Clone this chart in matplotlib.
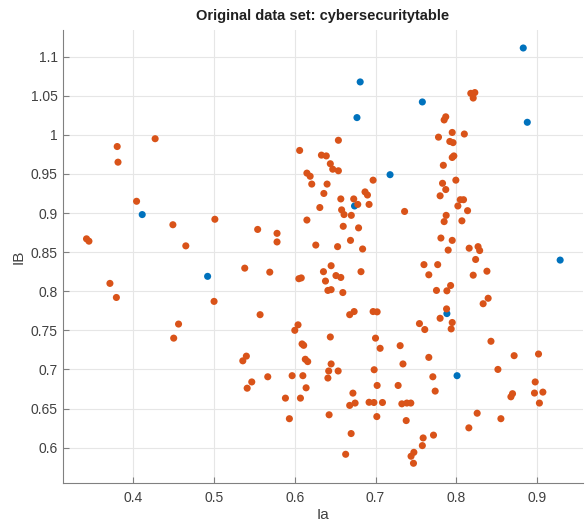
import matplotlib
matplotlib.use("Agg")
import matplotlib.pyplot as plt
from matplotlib.ticker import FuncFormatter

# Class 1 (orange) points
orange_x = [0.427, 0.380, 0.381, 0.404, 0.449, 0.501, 0.342, 0.345, 0.465,
            0.371, 0.379, 0.500, 0.456, 0.450,
            0.654, 0.606, 0.633, 0.639, 0.644, 0.647, 0.654, 0.615, 0.619, 0.697,
            0.621, 0.640, 0.687, 0.690, 0.636, 0.657, 0.673, 0.692, 0.678, 0.631,
            0.658, 0.661, 0.670, 0.736, 0.615, 0.554, 0.660, 0.679, 0.578, 0.578,
            0.669, 0.626, 0.653, 0.684,
            0.818, 0.823, 0.821, 0.787, 0.785, 0.795, 0.810, 0.778, 0.792, 0.796,
            0.797, 0.795, 0.784, 0.7995, 0.783, 0.787, 0.780, 0.805, 0.809, 0.802,
            0.814, 0.7875, 0.785, 0.807, 0.781, 0.795, 0.790, 0.816, 0.827, 0.829,
            0.538, 0.569, 0.605, 0.608, 0.6355, 0.645, 0.638, 0.651, 0.657, 0.682,
            0.641, 0.645, 0.6595, 0.557, 0.668, 0.6735, 0.697, 0.702, 0.604, 0.600,
            0.644, 0.700, 0.7057, 0.7305, 0.609, 0.611, 0.540, 0.5356, 0.613, 0.616,
            0.645, 0.642, 0.641, 0.6537, 0.6983, 0.734, 0.5467, 0.541, 0.5665,
            0.5967, 0.610, 0.614, 0.5884, 0.607, 0.702, 0.728, 0.672, 0.668, 0.6747,
            0.692, 0.698, 0.7086, 0.7326, 0.7388, 0.7437, 0.5933, 0.6425, 0.7016,
            0.738, 0.6698, 0.663,
            0.824, 0.760, 0.777, 0.766, 0.821, 0.838, 0.7755, 0.7884, 0.793, 0.8395,
            0.8333, 0.788, 0.780, 0.7544, 0.761, 0.795, 0.7937, 0.843, 0.8717,
            0.9019, 0.766, 0.8516, 0.771, 0.7739, 0.8978, 0.8697, 0.8677, 0.8969,
            0.9073, 0.903, 0.8259, 0.8553, 0.8156, 0.7718, 0.759, 0.758, 0.7475,
            0.744, 0.747]
orange_y = [0.995, 0.985, 0.965, 0.915, 0.885, 0.892, 0.867, 0.864, 0.858,
            0.810, 0.792, 0.787, 0.758, 0.740,
            0.993, 0.980, 0.974, 0.973, 0.963, 0.956, 0.954, 0.951, 0.947, 0.942,
            0.937, 0.937, 0.927, 0.923, 0.925, 0.918, 0.918, 0.911, 0.911, 0.907,
            0.904, 0.898, 0.897, 0.902, 0.891, 0.879, 0.883, 0.881, 0.874, 0.863,
            0.865, 0.859, 0.857, 0.854,
            1.053, 1.054, 1.047, 1.023, 1.019, 1.003, 1.001, 0.997, 0.9915, 0.990,
            0.973, 0.971, 0.961, 0.942, 0.938, 0.930, 0.922, 0.917, 0.917, 0.909,
            0.903, 0.897, 0.889, 0.890, 0.868, 0.865, 0.8526, 0.855, 0.857, 0.852,
            0.8295, 0.8244, 0.816, 0.817, 0.825, 0.8326, 0.813, 0.820, 0.8176, 0.825,
            0.801, 0.802, 0.7983, 0.770, 0.770, 0.774, 0.774, 0.7736, 0.757, 0.750,
            0.7415, 0.740, 0.727, 0.7304, 0.7326, 0.7308, 0.717, 0.711, 0.713, 0.710,
            0.707, 0.698, 0.689, 0.698, 0.6996, 0.707, 0.684, 0.676, 0.6906,
            0.692, 0.692, 0.6765, 0.6633, 0.6633, 0.6795, 0.6795, 0.6697, 0.654, 0.657,
            0.658, 0.6577, 0.6577, 0.656, 0.657, 0.657, 0.637, 0.642, 0.6397,
            0.6346, 0.618, 0.5915,
            0.8406, 0.834, 0.834, 0.821, 0.8205, 0.8256, 0.801, 0.8005, 0.8073, 0.791,
            0.784, 0.7774, 0.7654, 0.7586, 0.751, 0.760, 0.7518, 0.736, 0.7176,
            0.7197, 0.7154, 0.700, 0.6906, 0.6723, 0.684, 0.669, 0.665, 0.6698,
            0.671, 0.657, 0.644, 0.637, 0.6253, 0.616, 0.6124, 0.6026, 0.594,
            0.589, 0.580]

# Class 2 (blue) points
blue_x = [0.411, 0.492, 0.681, 0.677, 0.718, 0.674, 0.883, 0.758, 0.888,
          0.9287, 0.7884, 0.801]
blue_y = [0.898, 0.819, 1.0676, 1.022, 0.949, 0.909, 1.111, 1.042, 1.016,
          0.8398, 0.7714, 0.692]

xticks = [0.4, 0.5, 0.6, 0.7, 0.8, 0.9]
yticks = [0.6, 0.65, 0.7, 0.75, 0.8, 0.85, 0.9, 0.95, 1.0, 1.05, 1.1]

plt.rcParams['font.family'] = ['Liberation Sans', 'DejaVu Sans']

fig = plt.figure(figsize=(5.85, 5.23), dpi=100)
ax = fig.add_axes([62.7 / 585, (523 - 483.3) / 523, (583 - 62.7) / 585, (483.3 - 30) / 523])

ax.scatter(blue_x, blue_y, s=26, color='#0072BD', edgecolors='none', zorder=3)
ax.scatter(orange_x, orange_y, s=26, color='#D95319', edgecolors='none', zorder=3)

ax.set_xlim(0.3125, 0.957)
ax.set_ylim(0.5544, 1.134)
ax.set_xticks(xticks)
ax.set_yticks(yticks)
fmt = FuncFormatter(lambda v, p: '%g' % round(v, 4))
ax.xaxis.set_major_formatter(fmt)
ax.yaxis.set_major_formatter(fmt)

ax.grid(True, color='#e6e6e6', linewidth=0.8, zorder=0)
ax.set_axisbelow(True)
for s in ['top', 'right']:
    ax.spines[s].set_visible(False)
for s in ['left', 'bottom']:
    ax.spines[s].set_color('#808080')
    ax.spines[s].set_linewidth(0.8)
ax.tick_params(direction='in', length=4, width=0.8, color='#808080',
               labelsize=10, labelcolor='#404040')
ax.tick_params(axis='x', pad=5.5)
ax.tick_params(axis='y', pad=3.5)

ax.set_xlabel('Ia', fontsize=11, color='#404040', labelpad=2)
ax.set_ylabel('IB', fontsize=11, color='#404040', labelpad=4)
ax.set_title('Original data set: cybersecuritytable', fontsize=10.5,
             fontweight='bold', color='#202020', pad=7)

fig.savefig('out.png', dpi=100)
